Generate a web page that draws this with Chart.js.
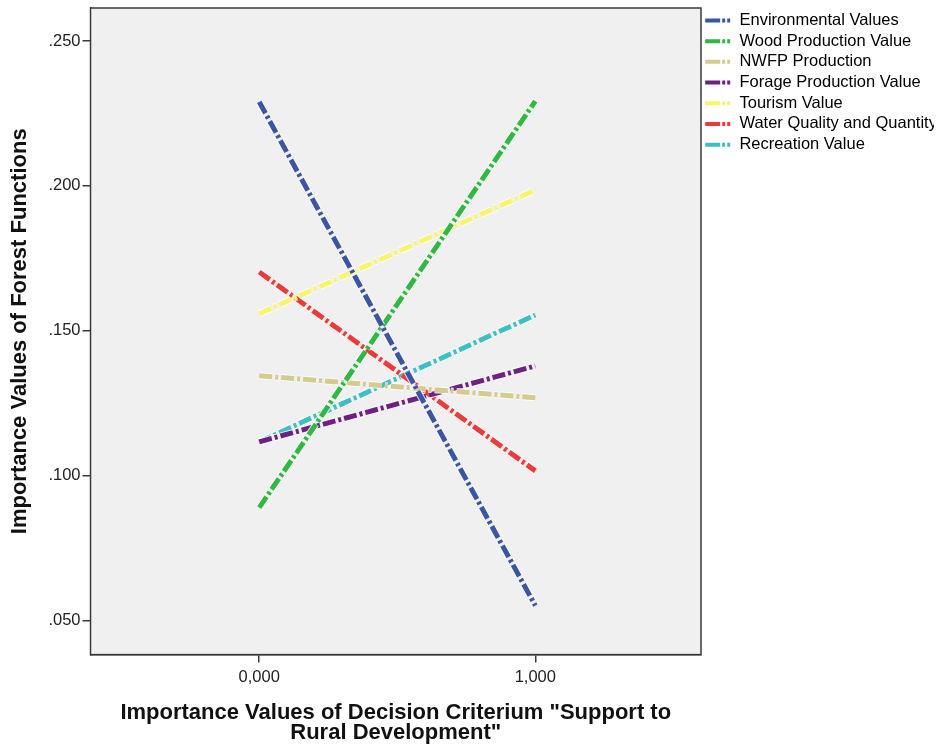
<!DOCTYPE html>
<html lang="en">

<head>
    <meta charset="UTF-8">
    <script src="https://cdn.jsdelivr.net/npm/chart.js"></script>
    <title>Forest Functions</title>
    <style>
        body { margin: 0; background: #fff; }
        #wrap { width: 937px; height: 749px; }
    </style>
</head>

<body>
    <div id="wrap"><canvas id="chart"></canvas></div>
</body>

<script>
    // data
    let xValues = [0, 1];
    let seriesNames = [
        'Environmental Values',
        'Wood Production Value',
        'NWFP Production',
        'Forage Production Value',
        'Tourism Value',
        'Water Quality and Quantity',
        'Recreation Value'
    ];
    let environmental = [0.229, 0.0552];
    let wood = [0.089, 0.2293];
    let nwfp = [0.1345, 0.1269];
    let forage = [0.1117, 0.1379];
    let tourism = [0.1559, 0.1986];
    let water = [0.1703, 0.1017];
    let recreation = [0.1117, 0.1555];
    let yTicks = [0.05, 0.10, 0.15, 0.20, 0.25];
    let xTicks = [0, 1];

    let seriesValues = [environmental, wood, nwfp, forage, tourism, water, recreation];
    let colors = ['#3a54a8', '#2dbb3f', '#d4cb8e', '#6e2180', '#f8f56a', '#f03a3a', '#3cc0c4'];
    let dash = [13, 3, 3, 3];
    let font = 'Liberation Sans, Arial';

    let datasets = [];
    for (let i = 0; i < seriesNames.length; i++) {
        let pts = xValues.map(function (x, j) { return { x: x, y: seriesValues[i][j] }; });
        datasets.push({
            label: seriesNames[i],
            data: pts,
            borderColor: colors[i],
            backgroundColor: colors[i],
            borderWidth: 5,
            borderDash: dash,
            borderCapStyle: 'butt',
            pointRadius: 0,
            showLine: true,
            order: 2 * i
        });
        // white halo under each line
        datasets.push({
            label: 'halo' + i,
            data: pts,
            borderColor: 'rgba(255,255,255,0.85)',
            borderWidth: 7,
            borderDash: dash,
            borderCapStyle: 'butt',
            pointRadius: 0,
            showLine: true,
            order: 2 * i + 1
        });
    }

    // grey plot background and frame
    let frame = {
        id: 'frame',
        beforeDatasetsDraw: function (chart) {
            let a = chart.chartArea, ctx = chart.ctx;
            ctx.save();
            ctx.fillStyle = '#f0f0f0';
            ctx.fillRect(a.left, a.top, a.right - a.left, a.bottom - a.top);
            ctx.restore();
        },
        afterDatasetsDraw: function (chart) {
            let a = chart.chartArea, ctx = chart.ctx;
            ctx.save();
            ctx.strokeStyle = '#3a3a3a';
            ctx.lineWidth = 1.5;
            ctx.strokeRect(a.left, a.top, a.right - a.left, a.bottom - a.top);
            ctx.restore();
        }
    };

    let ctx = document.getElementById('chart').getContext('2d');
    let chart = new Chart(ctx, {
        type: 'scatter',
        data: { datasets: datasets },
        options: {
            responsive: true,
            maintainAspectRatio: false,
            animation: false,
            layout: { padding: { top: 8, left: 2, right: 3, bottom: 6 } },
            plugins: {
                tooltip: { enabled: false },
                legend: {
                    position: 'right',
                    align: 'start',
                    labels: {
                        usePointStyle: true,
                        pointStyleWidth: 26,
                        boxHeight: 16,
                        padding: 4.2,
                        color: '#111',
                        font: { family: font, size: 16.5 },
                        generateLabels: function (chart) {
                            return chart.data.datasets.map(function (ds, i) {
                                return {
                                    text: ds.label,
                                    strokeStyle: ds.borderColor,
                                    fillStyle: ds.borderColor,
                                    lineWidth: 4,
                                    lineDash: [15, 2, 3, 2, 3, 2],
                                    pointStyle: 'line',
                                    hidden: false,
                                    datasetIndex: i
                                };
                            }).filter(function (item) { return item.text.indexOf('halo') !== 0; });
                        }
                    }
                }
            },
            scales: {
                x: {
                    type: 'linear',
                    min: -0.611,
                    max: 1.6,
                    afterBuildTicks: function (axis) {
                        axis.ticks = xTicks.map(function (v) { return { value: v }; });
                    },
                    ticks: {
                        color: '#222',
                        padding: 5,
                        font: { family: font, size: 16.5 },
                        callback: function (v) { return v.toFixed(3).replace('.', ','); }
                    },
                    grid: { drawOnChartArea: false, color: '#3a3a3a', tickLength: 8, lineWidth: 1.5 },
                    border: { color: '#3a3a3a', width: 1.5 },
                    title: {
                        display: true,
                        text: ['Importance Values of Decision Criterium "Support to', 'Rural Development"'],
                        color: '#111',
                        padding: { top: 11, bottom: 0 },
                        font: { family: font, size: 22, weight: 'bold', lineHeight: 0.9 }
                    }
                },
                y: {
                    min: 0.0383,
                    max: 0.2614,
                    afterBuildTicks: function (axis) {
                        axis.ticks = yTicks.map(function (v) { return { value: v }; });
                    },
                    afterFit: function (axis) {
                        axis.paddingTop = 0;
                        axis.paddingBottom = 0;
                    },
                    ticks: {
                        color: '#222',
                        padding: 2,
                        font: { family: font, size: 16.5 },
                        callback: function (v) { return v.toFixed(3).replace(/^0/, ''); }
                    },
                    grid: { drawOnChartArea: false, color: '#3a3a3a', tickLength: 8, lineWidth: 1.5 },
                    border: { color: '#3a3a3a', width: 1.5 },
                    title: {
                        display: true,
                        text: 'Importance Values of Forest Functions',
                        color: '#111',
                        padding: { top: 5, bottom: 13 },
                        font: { family: font, size: 22, weight: 'bold' }
                    }
                }
            }
        },
        plugins: [frame]
    });
</script>

</html>
